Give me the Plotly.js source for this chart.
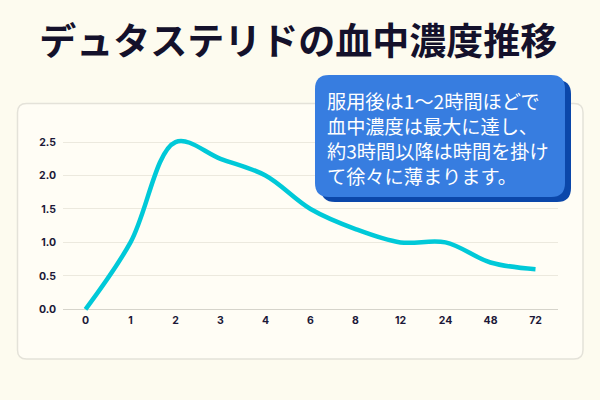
<!DOCTYPE html>
<html>
<head>
<meta charset="utf-8">
<script src="https://cdn.plot.ly/plotly-3.0.1.min.js"></script>
<style>html,body{margin:0;padding:0;background:#fdfbef;}#chart{width:600px;height:400px;}</style>
</head>
<body>
<div id="chart"></div>
<script>
const titleText = 'デュタステリドの血中濃度推移';
const hours = ['0', '1', '2', '3', '4', '6', '8', '12', '24', '48', '72'];
const concentration = [0, 1.0, 2.5, 2.25, 2.0, 1.5, 1.2, 1.0, 1.0, 0.7, 0.6];
const yTicks = [0, 0.5, 1.0, 1.5, 2.0, 2.5];
const yTickLabels = ['0.0', '0.5', '1.0', '1.5', '2.0', '2.5'];
const calloutLines = ['服用後は1〜2時間ほどで', '血中濃度は最大に達し、', '約3時間以降は時間を掛け', 'て徐々に薄まります。'];

const W = 600, H = 400;
const M = {l: 63, r: 42, t: 129, b: 88};
const PW = W - M.l - M.r, PH = H - M.t - M.b;
function px(x) { return (x - M.l) / PW; }
function py(y) { return (H - M.b - y) / PH; }
function roundRect(x0, y0, x1, y1, r) {
  const p = (x, y) => px(x).toFixed(5) + ',' + py(y).toFixed(5);
  return 'M' + p(x0 + r, y0) + ' L' + p(x1 - r, y0) + ' Q' + p(x1, y0) + ' ' + p(x1, y0 + r) +
    ' L' + p(x1, y1 - r) + ' Q' + p(x1, y1) + ' ' + p(x1 - r, y1) +
    ' L' + p(x0 + r, y1) + ' Q' + p(x0, y1) + ' ' + p(x0, y1 - r) +
    ' L' + p(x0, y0 + r) + ' Q' + p(x0, y0) + ' ' + p(x0 + r, y0) + ' Z';
}

const trace = {
  x: hours, y: concentration, type: 'scatter', mode: 'lines',
  line: {color: '#00c9d8', width: 4.5, shape: 'spline', smoothing: 1},
  hoverinfo: 'skip'
};

const tickFont = {family: 'Inter, Lato, sans-serif', size: 10.5, color: '#1c1838', weight: 700};

const layout = {
  width: W, height: H,
  margin: M,
  paper_bgcolor: '#fdfbef',
  plot_bgcolor: 'rgba(0,0,0,0)',
  showlegend: false,
  title: {
    text: titleText,
    font: {family: 'Noto Sans CJK JP', size: 37, color: '#14112b', weight: 700},
    x: 0.497, xanchor: 'center', xref: 'container',
    y: 1 - 42 / H, yanchor: 'middle', yref: 'container'
  },
  xaxis: {
    type: 'category', categoryorder: 'array', categoryarray: hours,
    range: [-0.5, hours.length - 0.5],
    showgrid: false, zeroline: false, showline: false,
    ticks: '', tickfont: tickFont, fixedrange: true
  },
  yaxis: {
    range: [-0.04, 2.695],
    tickvals: yTicks, ticktext: yTickLabels,
    showgrid: true, gridcolor: '#ece9de', gridwidth: 1,
    zeroline: true, zerolinecolor: '#d6d4cb', zerolinewidth: 1.5,
    showline: false, ticks: '', ticklabelstandoff: 6,
    tickfont: tickFont, fixedrange: true
  },
  shapes: [
    {type: 'path', xref: 'paper', yref: 'paper', layer: 'below',
     path: roundRect(17.5, 103.5, 583, 359, 9),
     fillcolor: '#fffdf5', line: {color: '#e4e2d9', width: 1.5}},
    {type: 'path', xref: 'paper', yref: 'paper', layer: 'above',
     path: roundRect(321, 80, 571, 202, 14),
     fillcolor: '#0b47aa', line: {width: 0}},
    {type: 'path', xref: 'paper', yref: 'paper', layer: 'above',
     path: roundRect(315, 75, 565, 197, 14),
     fillcolor: '#377de0', line: {width: 0}}
  ],
  annotations: [{
    xref: 'paper', yref: 'paper', x: px(325.5), y: py(86),
    xanchor: 'left', yanchor: 'top', align: 'left', showarrow: false,
    text: calloutLines.join('<br>'),
    font: {family: 'Noto Sans CJK JP', size: 19.2, color: '#ffffff'},
    borderpad: 0
  }]
};

Plotly.newPlot('chart', [trace], layout, {displayModeBar: false, staticPlot: true});
</script>
</body>
</html>
